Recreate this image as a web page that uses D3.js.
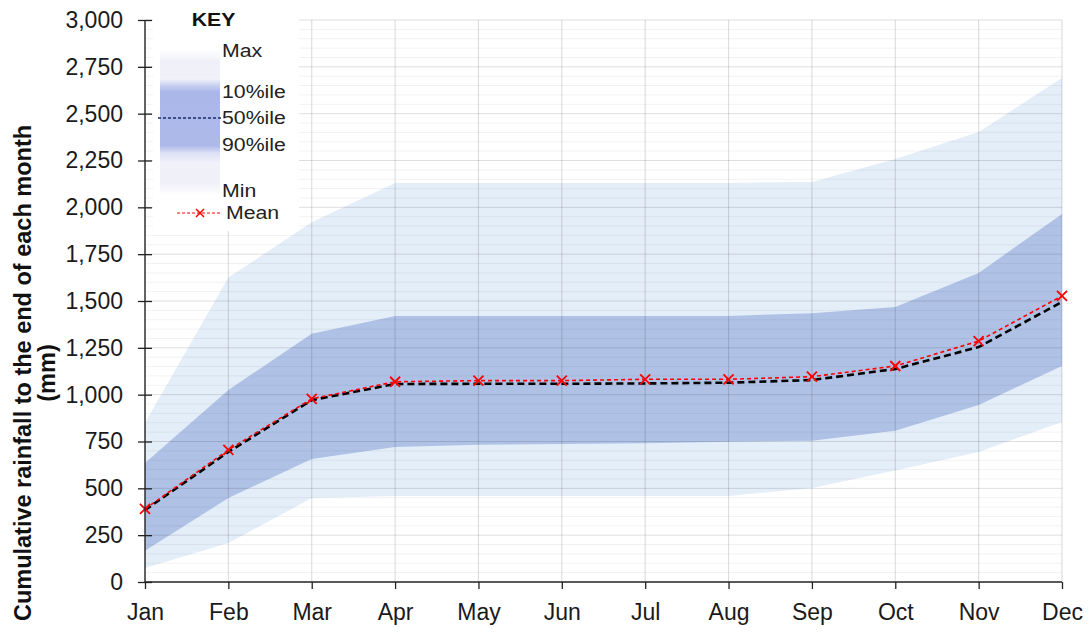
<!DOCTYPE html>
<html>
<head>
<meta charset="utf-8">
<script src="https://cdn.jsdelivr.net/npm/d3@7"></script>
<style>
  html, body { margin: 0; padding: 0; background: #fff; }
  svg { display: block; font-family: "Liberation Sans", Arial, sans-serif; }
</style>
</head>
<body>
<svg id="chart" width="1092" height="633"></svg>
<script>
const months = ["Jan","Feb","Mar","Apr","May","Jun","Jul","Aug","Sep","Oct","Nov","Dec"];
const maxVals = [850, 1625, 1920, 2130, 2130, 2130, 2130, 2130, 2135, 2258, 2402, 2690];
const p90Vals = [635, 1025, 1325, 1420, 1420, 1420, 1420, 1420, 1435, 1468, 1650, 1964];
const p50Vals = [384, 694, 971, 1057, 1058, 1058, 1060, 1064, 1078, 1137, 1254, 1495];
const p10Vals = [167, 448, 657, 720, 733, 737, 740, 749, 754, 807, 945, 1153];
const minVals = [75, 208, 448, 459, 459, 459, 459, 459, 502, 595, 694, 854];
const meanVals = [390, 705, 978, 1069, 1075, 1075, 1082, 1082, 1096, 1153, 1286, 1527];
const yTicks = [0, 250, 500, 750, 1000, 1250, 1500, 1750, 2000, 2250, 2500, 2750, 3000];
const yTitle1 = "Cumulative rainfall to the end of each month";
const yTitle2 = "(mm)";
const keyTitle = "KEY";
const keyLabels = ["Max", "10%ile", "50%ile", "90%ile", "Min", "Mean"];

const svg = d3.select("#chart");
const L = 145, R = 1062, T = 20, B = 582;

const x = d3.scalePoint().domain(months).range([L, R]);
const y = d3.scaleLinear().domain([0, 3000]).range([B, T]);

const idx = d3.range(months.length);

// bands
const band = (lo, hi) => d3.area()
  .x(i => x(months[i])).y0(i => y(lo[i])).y1(i => y(hi[i]));

svg.append("path").datum(idx).attr("d", band(minVals, maxVals)).attr("fill", "#e4eef9");
svg.append("path").datum(idx).attr("d", band(p10Vals, p90Vals)).attr("fill", "#afc2e6");

// gridlines
const grid = svg.append("g");
const minor = d3.range(0, 3001, 50).filter(v => v % 250 !== 0);
grid.selectAll("line.minor").data(minor).join("line")
  .attr("x1", L).attr("x2", R).attr("y1", d => y(d)).attr("y2", d => y(d))
  .attr("stroke", "rgba(0,0,0,0.055)").attr("stroke-width", 1);
grid.selectAll("line.major").data(yTicks.filter(v => v > 0)).join("line")
  .attr("x1", L).attr("x2", R).attr("y1", d => y(d)).attr("y2", d => y(d))
  .attr("stroke", "rgba(0,0,0,0.13)").attr("stroke-width", 1);
grid.selectAll("line.vert").data(months.slice(1)).join("line")
  .attr("x1", d => x(d)).attr("x2", d => x(d)).attr("y1", T).attr("y2", B)
  .attr("stroke", "rgba(0,0,0,0.13)").attr("stroke-width", 1.2);

// key box
const key = svg.append("g");
key.append("rect").attr("x", 153).attr("y", 0).attr("width", 146).attr("height", 231).attr("fill", "#fff");
const defs = svg.append("defs");
const g1 = defs.append("linearGradient").attr("id", "keygrad").attr("x1", 0).attr("x2", 0).attr("y1", 0).attr("y2", 1);
[[0, "#ffffff"], [0.08, "#efeff9"], [0.2, "#f1f1fa"], [0.25, "#c4ccef"], [0.29, "#aab7e9"], [0.66, "#adb9e9"], [0.71, "#dde1f5"], [0.78, "#f1f1fa"], [0.92, "#f0f0f9"], [1, "#ffffff"]]
  .forEach(([o, c]) => g1.append("stop").attr("offset", o).attr("stop-color", c));
key.append("rect").attr("x", 160).attr("y", 50).attr("width", 60).attr("height", 145).attr("fill", "url(#keygrad)");
key.append("line").attr("x1", 158).attr("x2", 222).attr("y1", 118).attr("y2", 118)
  .attr("stroke", "#1a2a6c").attr("stroke-width", 1.3).attr("stroke-dasharray", "3,2");
key.append("text").attr("transform", "translate(213.5,26) scale(1.12,1)").attr("text-anchor", "middle")
  .attr("font-size", 19).attr("font-weight", "bold").attr("fill", "#111").text(keyTitle);
const keyY = [57, 98, 124, 151, 197, 219];
keyLabels.forEach((t, i) => {
  key.append("text").attr("transform", `translate(${i === 5 ? 226 : 222},${keyY[i]}) scale(1.15,1)`)
    .attr("font-size", 18.5).attr("fill", "#222").text(t);
});
key.append("line").attr("x1", 177).attr("x2", 222).attr("y1", 213).attr("y2", 213)
  .attr("stroke", "#ff0000").attr("stroke-width", 1.2).attr("stroke-dasharray", "3,2");
key.append("path").attr("d", "M196,209L204,217M196,217L204,209").attr("stroke", "#ff0000").attr("stroke-width", 1.5);

// median line
svg.append("path").datum(idx)
  .attr("d", d3.line().x(i => x(months[i])).y(i => y(p50Vals[i])))
  .attr("fill", "none").attr("stroke", "#000").attr("stroke-width", 2.6).attr("stroke-dasharray", "7,4");

// mean line
svg.append("path").datum(idx)
  .attr("d", d3.line().x(i => x(months[i])).y(i => y(meanVals[i])))
  .attr("fill", "none").attr("stroke", "#ff0000").attr("stroke-width", 1.6).attr("stroke-dasharray", "4,3");
svg.append("g").selectAll("path").data(idx).join("path")
  .attr("d", i => {
    const cx = x(months[i]), cy = y(meanVals[i]), s = 5;
    return `M${cx - s},${cy - s}L${cx + s},${cy + s}M${cx - s},${cy + s}L${cx + s},${cy - s}`;
  })
  .attr("stroke", "#ff0000").attr("stroke-width", 1.8);

// axes
const yAxis = svg.append("g").attr("transform", `translate(${L},0)`)
  .call(d3.axisLeft(y).tickValues(yTicks).tickFormat(d3.format(",")).tickSize(7).tickPadding(15));
yAxis.selectAll(".tick line").attr("x1", 7).attr("x2", -7);
const xAxis = svg.append("g").attr("transform", `translate(0,${B})`)
  .call(d3.axisBottom(x).tickSize(7).tickPadding(14.5));
[yAxis, xAxis].forEach(a => {
  a.attr("font-size", 23);
  a.select(".domain").attr("stroke", "#222").attr("stroke-width", 1.4);
  a.selectAll(".tick line").attr("stroke", "#222").attr("stroke-width", 1.3);
  a.selectAll(".tick text").attr("font-size", 23).attr("fill", "#1a1a1a")
    .attr("font-family", "Liberation Sans, Arial, sans-serif");
});
xAxis.select(".domain").attr("d", `M${L},0H${R}`);
yAxis.select(".domain").attr("d", `M0,${B}V${T}`);

// y title
const yt = svg.append("text").attr("transform", "translate(31,373) rotate(-90)")
  .attr("text-anchor", "middle").attr("font-size", 23.5).attr("font-weight", "bold").attr("fill", "#111");
yt.append("tspan").attr("x", 0).attr("dy", 0).text(yTitle1);
yt.append("tspan").attr("x", 0).attr("dy", 24).text(yTitle2);
</script>
</body>
</html>
